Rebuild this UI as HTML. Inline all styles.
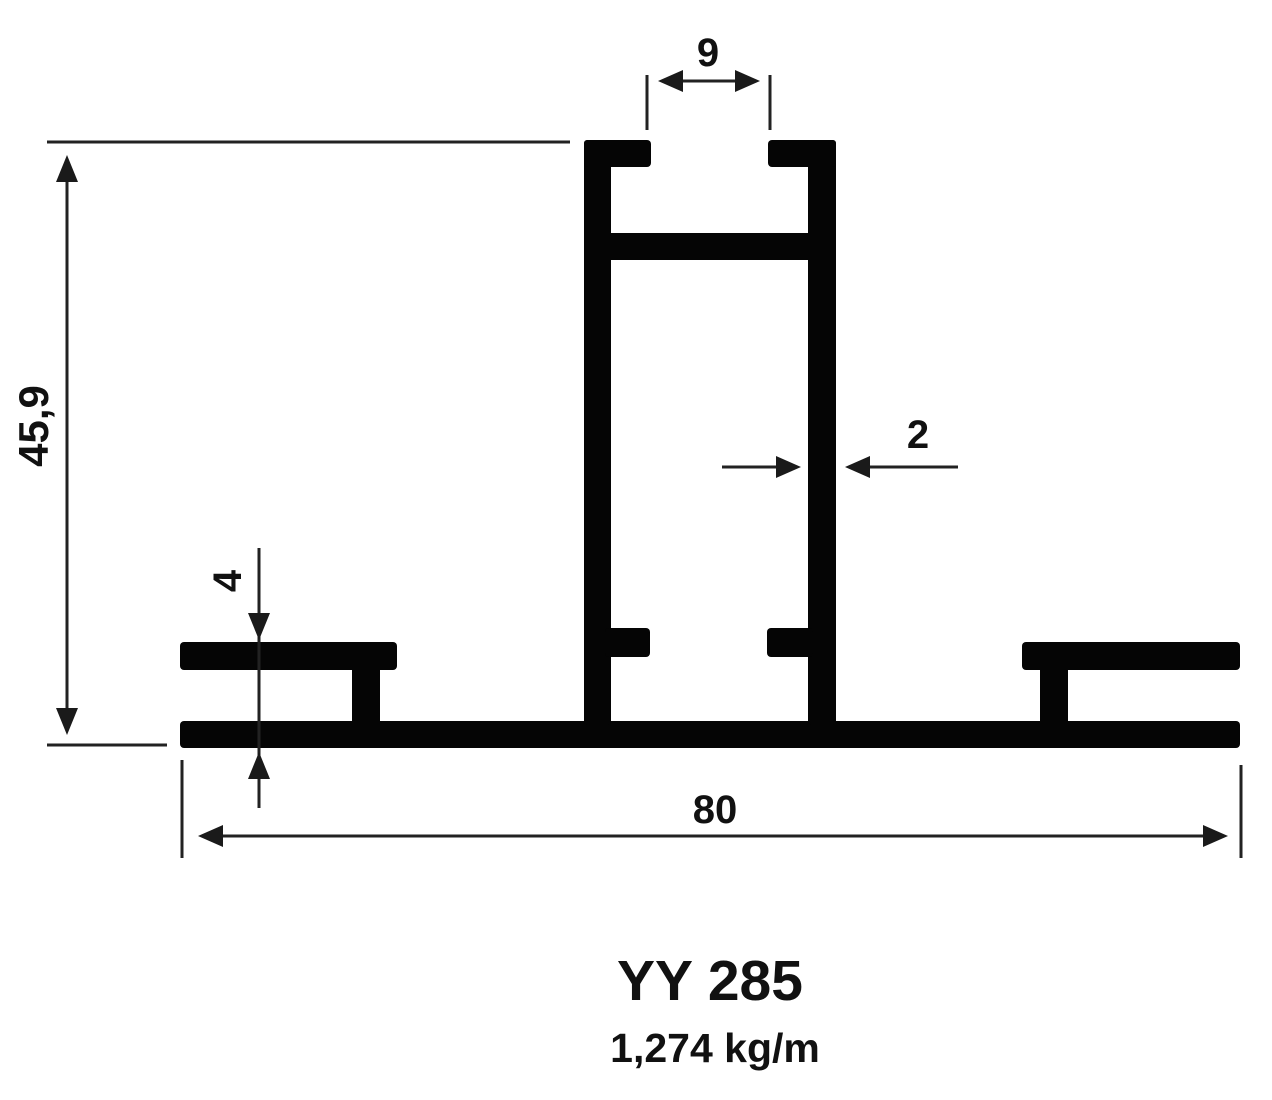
<!DOCTYPE html>
<html><head><meta charset="utf-8"><style>
html,body{margin:0;padding:0;background:#fff;}
svg{display:block;}
text{font-family:"Liberation Sans",sans-serif;font-weight:bold;fill:#111;}
</style></head><body>
<svg width="1272" height="1100" viewBox="0 0 1272 1100" xmlns="http://www.w3.org/2000/svg">
<g fill="#050505">
  <!-- base bar -->
  <rect x="180" y="721" width="1060" height="27" rx="4"/>
  <!-- left flange -->
  <rect x="180" y="642" width="217" height="28" rx="4"/>
  <rect x="352" y="665" width="28" height="60"/>
  <!-- right flange -->
  <rect x="1022" y="642" width="218" height="28" rx="4"/>
  <rect x="1040" y="665" width="28" height="60"/>
  <!-- central tube walls -->
  <rect x="584" y="140" width="27" height="585" rx="3"/>
  <rect x="808" y="140" width="28" height="585" rx="3"/>
  <!-- top lips -->
  <rect x="584" y="140" width="67" height="27" rx="4"/>
  <rect x="768" y="140" width="68" height="27" rx="4"/>
  <!-- crossbar -->
  <rect x="605" y="233" width="208" height="27"/>
  <!-- lower lips -->
  <rect x="605" y="628" width="45" height="29" rx="4"/>
  <rect x="767" y="628" width="46" height="29" rx="4"/>
</g>
<g stroke="#222" stroke-width="3" fill="none">
  <!-- 45,9 -->
  <line x1="47" y1="142" x2="570" y2="142"/>
  <line x1="47" y1="745" x2="167" y2="745"/>
  <line x1="67" y1="170" x2="67" y2="720"/>
  <!-- 9 -->
  <line x1="647" y1="75" x2="647" y2="130"/>
  <line x1="770" y1="75" x2="770" y2="130"/>
  <line x1="675" y1="81" x2="745" y2="81"/>
  <!-- 2 -->
  <line x1="722" y1="467" x2="780" y2="467"/>
  <line x1="865" y1="467" x2="958" y2="467"/>
  <!-- 4 -->
  <line x1="259" y1="548" x2="259" y2="808"/>
  <!-- 80 -->
  <line x1="182" y1="760" x2="182" y2="858"/>
  <line x1="1241" y1="765" x2="1241" y2="858"/>
  <line x1="215" y1="836" x2="1212" y2="836"/>
</g>
<g fill="#1a1a1a">
  <!-- 45,9 arrows -->
  <polygon points="67,155 56,182 78,182"/>
  <polygon points="67,735 56,708 78,708"/>
  <!-- 9 arrows -->
  <polygon points="658,81 683,70 683,92"/>
  <polygon points="760,81 735,70 735,92"/>
  <!-- 2 arrows -->
  <polygon points="801,467 776,456 776,478"/>
  <polygon points="845,467 870,456 870,478"/>
  <!-- 4 arrows -->
  <polygon points="259,640 248,613 270,613"/>
  <polygon points="259,752 248,779 270,779"/>
  <!-- 80 arrows -->
  <polygon points="198,836 223,825 223,847"/>
  <polygon points="1228,836 1203,825 1203,847"/>
</g>
<text x="708" y="66" font-size="40" text-anchor="middle">9</text>
<text x="918" y="448" font-size="40" text-anchor="middle">2</text>
<text x="715" y="823" font-size="40" text-anchor="middle">80</text>
<text transform="translate(48,426) rotate(-90)" font-size="42" text-anchor="middle">45,9</text>
<text transform="translate(241,581) rotate(-90)" font-size="40" text-anchor="middle">4</text>
<text x="710" y="1000" font-size="57" text-anchor="middle">YY 285</text>
<text x="715" y="1062" font-size="41" text-anchor="middle">1,274 kg/m</text>
</svg>
</body></html>
